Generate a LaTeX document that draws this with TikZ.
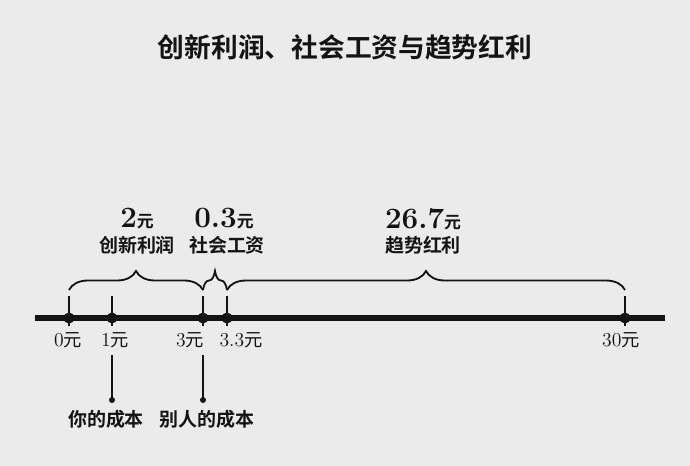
\documentclass[tikz,border=0pt]{standalone}
\usepackage{fontspec}
\newfontfamily\cjk{Noto Sans CJK SC}[BoldFont={Noto Sans CJK SC Bold}]
\usetikzlibrary{decorations.pathreplacing}
\definecolor{bgray}{HTML}{EBEBEB}
\definecolor{ink}{HTML}{141414}
\tikzset{
  title/.style={font=\cjk\bfseries\fontsize{19}{22}\selectfont,text=ink},
  amount/.style={font=\bfseries\fontsize{21}{24}\selectfont,text=ink},
  part/.style={font=\cjk\bfseries\fontsize{13.5}{16}\selectfont,text=ink},
  ticklabel/.style={font=\fontsize{14}{16}\selectfont,text=ink},
  axis/.style={draw=ink,line width=3.8pt},
  tick/.style={draw=ink,line width=1.4pt},
  pin/.style={draw=ink,line width=1.4pt},
  bracket/.style={draw=ink,line width=1.3pt,decorate,decoration={brace,amplitude=13.5pt}}
}
\newcommand{\yuan}{{\cjk\fontsize{12}{14}\selectfont 元}}
\newcommand{\smyuan}{{\cjk\fontsize{13}{15}\selectfont 元}}

\begin{document}
\begin{tikzpicture}[x=0.025cm,y=-0.025cm]
\fill[bgray] (0,0) rectangle (690,466);
\path[use as bounding box] (0,0) rectangle (690,466);
\node[title] (title) at (345,47) {创新利润、社会工资与趋势红利};

% axis
\coordinate (left) at (35,318);
\coordinate (right) at (665,318);
\draw[axis] (left) -- (right);
\foreach \name/\x in {p0/69,p1/112,p3/203,p33/227,p30/625}{
 \coordinate (\name) at (\x,318);
 \coordinate (\name-top) at (\x,296);
 \coordinate (\name-bot) at (\x,326);
 \coordinate (\name-brace) at (\x,290);
 \draw[tick] (\name-top) -- (\name-bot);
 \fill[ink] (\name) circle (5.5);
}
\foreach \name/\x/\lab in {l0/68/0,l1/115/1,l3/190/3,l33/241/3.3,l30/621/30}{
 \node[ticklabel] (\name) at (\x,340) {\lab\smyuan};
}

% braces
\draw[bracket] (p0-brace) -- (p3-brace);
\draw[bracket] (p3-brace) -- (p33-brace);
\draw[bracket] (p33-brace) -- (p30-brace);
\node[amount] (a1) at (137,219) {2\yuan};
\node[part] (b1) at (137,245) {创新利润};
\node[amount] (a2) at (224,219) {0.3\yuan};
\node[part] (b2) at (227,245) {社会工资};
\node[amount] (a3) at (423,219) {26.7\yuan};
\node[part] (b3) at (423,245) {趋势红利};

% costs
\coordinate (c1) at (112,355);
\coordinate (c1end) at (112,400);
\coordinate (c3) at (203,355);
\coordinate (c3end) at (203,400);
\draw[pin] (c1) -- (c1end);
\draw[pin] (c3) -- (c3end);
\fill[ink] (c1end) circle (3);
\fill[ink] (c3end) circle (3);
\node[part] (mine) at (106,419) {你的成本};
\node[part] (theirs) at (207,419) {别人的成本};
\end{tikzpicture}
\end{document}
